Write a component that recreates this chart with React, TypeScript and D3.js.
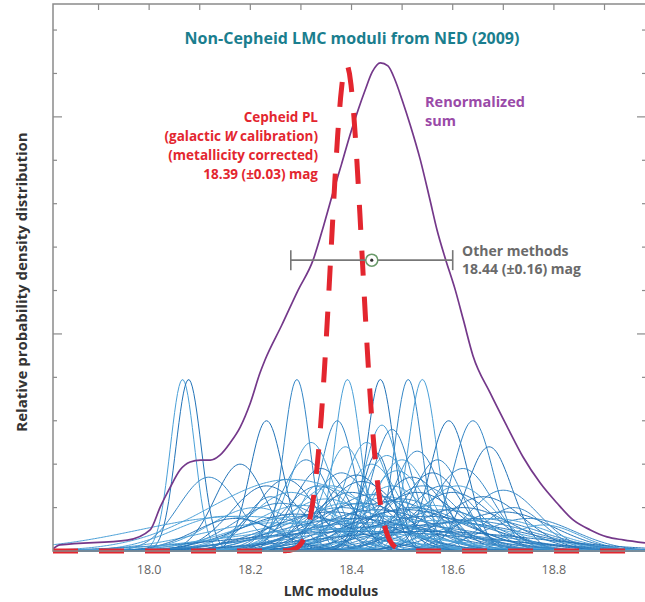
import React from "react";
import * as d3 from "d3";

const W = 645;
const H = 602;

// axis values
const xMajorTicks = [18.0, 18.2, 18.4, 18.6, 18.8];
const xTickLabels = ["18.0", "18.2", "18.4", "18.6", "18.8"];
const xMinorTicks = [17.9, 18.0, 18.1, 18.2, 18.3, 18.4, 18.5, 18.6, 18.7, 18.8, 18.9];
const yMinorTicks = [0.2, 0.4, 0.6, 0.8, 1.0, 1.2, 1.4, 1.6, 1.8, 2.0, 2.2, 2.4];
const yMajorTicks = [1.0, 2.0];

// individual NED moduli (gaussians): mean, sigma, peak height
const blueMeans = [
  18.066, 18.078, 18.292, 18.392, 18.457, 18.512, 18.54,
  18.232, 18.372, 18.46, 18.592, 18.64,
  18.388, 18.672, 18.53, 18.32,
  18.18, 18.118, 18.44, 18.56, 18.62, 18.5,
  18.232, 18.335, 18.48, 18.6, 18.7, 18.28, 18.42, 18.54,
  18.35, 18.42, 18.5, 18.56, 18.45, 18.38, 18.3, 18.62, 18.26, 18.47, 18.4, 18.52,
  18.18, 18.4, 18.5, 18.35, 18.6, 18.45, 18.3, 18.55, 18.65, 18.25, 18.7, 18.75, 18.15, 18.42,
  18.38, 18.47, 18.52, 18.58, 18.43, 18.34, 18.48,
  18.21, 18.27, 18.31, 18.36, 18.41, 18.44, 18.49, 18.53, 18.57, 18.61,
  18.66, 18.72, 18.78, 18.36, 18.46, 18.56, 18.29, 18.24, 18.39, 18.51,
  18.63, 18.33, 18.45, 18.58, 18.68, 18.17, 18.43, 18.35, 18.55, 18.48, 18.28,
];
const blueSigmas = [
  0.024, 0.025, 0.026, 0.026, 0.027, 0.027, 0.028,
  0.033, 0.034, 0.036, 0.038, 0.04,
  0.042, 0.045, 0.048, 0.045,
  0.05, 0.06, 0.055, 0.06, 0.06, 0.055,
  0.07, 0.07, 0.07, 0.08, 0.07, 0.08, 0.075, 0.075,
  0.09, 0.1, 0.09, 0.1, 0.12, 0.11, 0.1, 0.1, 0.09, 0.085, 0.08, 0.11,
  0.2, 0.15, 0.18, 0.16, 0.15, 0.2, 0.13, 0.13, 0.12, 0.15, 0.1, 0.09, 0.1, 0.25,
  0.06, 0.05, 0.065, 0.07, 0.045, 0.055, 0.04,
  0.09, 0.06, 0.05, 0.075, 0.065, 0.09, 0.06, 0.085, 0.05, 0.075,
  0.08, 0.06, 0.07, 0.12, 0.14, 0.16, 0.11, 0.05, 0.095, 0.12,
  0.13, 0.035, 0.03, 0.1, 0.11, 0.08, 0.17, 0.2, 0.22, 0.105, 0.16,
];
const bluePeaks = [
  0.79, 0.79, 0.79, 0.79, 0.79, 0.79, 0.79,
  0.6, 0.6, 0.58, 0.6, 0.6,
  0.48, 0.48, 0.46, 0.5,
  0.4, 0.34, 0.4, 0.36, 0.38, 0.42,
  0.3, 0.3, 0.3, 0.27, 0.28, 0.27, 0.32, 0.3,
  0.24, 0.22, 0.24, 0.21, 0.19, 0.2, 0.21, 0.2, 0.22, 0.25, 0.27, 0.2,
  0.16, 0.15, 0.12, 0.14, 0.13, 0.11, 0.16, 0.16, 0.15, 0.13, 0.18, 0.15, 0.16, 0.09,
  0.36, 0.44, 0.34, 0.3, 0.5, 0.38, 0.56,
  0.2, 0.33, 0.42, 0.3, 0.35, 0.26, 0.37, 0.27, 0.42, 0.3,
  0.25, 0.2, 0.12, 0.18, 0.16, 0.14, 0.17, 0.25, 0.22, 0.19,
  0.14, 0.3, 0.45, 0.19, 0.15, 0.15, 0.13, 0.1, 0.09, 0.23, 0.33,
];

// renormalized sum
const sumX = [
  17.81, 17.824, 17.957, 18.002, 18.022, 18.042, 18.061, 18.081, 18.101, 18.121, 18.14,
  18.16, 18.18, 18.2, 18.219, 18.229, 18.262, 18.294, 18.324, 18.345, 18.362, 18.38,
  18.397, 18.413, 18.427, 18.441, 18.457, 18.472, 18.486, 18.5, 18.516, 18.536, 18.555,
  18.569, 18.585, 18.605, 18.621, 18.64, 18.674, 18.708, 18.739, 18.773, 18.806, 18.838,
  18.872, 18.905, 18.937, 18.98,
];
const sumY = [
  0.01, 0.028, 0.05, 0.097, 0.203, 0.295, 0.373, 0.41, 0.419, 0.419, 0.442,
  0.498, 0.571, 0.682, 0.82, 0.88, 1.04, 1.2, 1.34, 1.5, 1.64, 1.78,
  1.917, 2.032, 2.124, 2.207, 2.249, 2.235, 2.17, 2.078, 1.963, 1.802, 1.618,
  1.479, 1.35, 1.203, 1.065, 0.9, 0.728, 0.571, 0.433, 0.313, 0.221, 0.143,
  0.097, 0.065, 0.051, 0.037,
];

// Cepheid PL
const cepheidMean = 18.39;
const cepheidSigma = 0.031;
const cepheidPeak = 2.24;

// Other methods
const otherMean = 18.44;
const otherErr = 0.16;
const otherLevel = 1.34;

const M = { left: 53, top: 4, right: 646, bottom: 551 };

const x = d3.scaleLinear().domain([17.81, 18.982]).range([M.left, M.right]);
const y = d3.scaleLinear().domain([0, 2.52]).range([M.bottom, M.top]);

function gaussPoints(mu: number, s: number, h: number): [number, number][] {
  const pts: [number, number][] = [];
  const [a, b] = x.domain();
  const n = 400;
  for (let i = 0; i <= n; i++) {
    const v = a + ((b - a) * i) / n;
    pts.push([v, h * Math.exp(-0.5 * ((v - mu) / s) ** 2)]);
  }
  return pts;
}

const line = d3
  .line<[number, number]>()
  .x((d) => x(d[0]))
  .y((d) => y(d[1]));

const smoothLine = d3
  .line<[number, number]>()
  .x((d) => x(d[0]))
  .y((d) => y(d[1]))
  .curve(d3.curveMonotoneX);

const FONT = "'Open Sans', Lato, sans-serif";

export default function App() {
  const blues = blueMeans.map((m, i) => gaussPoints(m, blueSigmas[i], bluePeaks[i]));
  const sumPts: [number, number][] = sumX.map((v, i) => [v, sumY[i]]);
  const ceph = gaussPoints(cepheidMean, cepheidSigma, cepheidPeak);
  const frame = "#8a8a8a";
  return (
    <svg width={W} height={H} style={{ position: "absolute", left: 0, top: 0, background: "#fff" }}>
      <defs>
        <clipPath id="plot">
          <rect x={M.left} y={M.top} width={M.right - M.left} height={M.bottom - M.top + 4} />
        </clipPath>
      </defs>
      <rect x={0} y={0} width={W} height={H} fill="#fff" />
      <g clipPath="url(#plot)">
        {blues.map((p, i) => (
          <path
            key={i}
            d={line(p) || ""}
            fill="none"
            stroke={i % 3 === 0 ? "#4aa0d8" : i % 3 === 1 ? "#2273b8" : "#3486c6"}
            strokeWidth={1}
          />
        ))}
        <path d={smoothLine(sumPts) || ""} fill="none" stroke="#74388a" strokeWidth={1.7} />
        <path
          d={line(ceph) || ""}
          fill="none"
          stroke="#e3262f"
          strokeWidth={5}
          strokeDasharray="25 21"
        />
      </g>
      {/* frame */}
      <rect
        x={M.left}
        y={M.top}
        width={M.right - M.left}
        height={M.bottom - M.top}
        fill="none"
        stroke={frame}
        strokeWidth={1.5}
      />
      {xMinorTicks.map((t) => (
        <line key={"xt" + t} x1={x(t)} x2={x(t)} y1={M.top} y2={M.top + 6} stroke={frame} strokeWidth={1.2} />
      ))}
      {yMinorTicks.map((t) => {
        const len = yMajorTicks.includes(t) ? 9 : 4;
        return (
          <g key={"yt" + t}>
            <line x1={M.left} x2={M.left + len} y1={y(t)} y2={y(t)} stroke={frame} strokeWidth={1.2} />
            <line x1={M.right - len} x2={M.right} y1={y(t)} y2={y(t)} stroke={frame} strokeWidth={1.2} />
          </g>
        );
      })}
      {xMajorTicks.map((t, i) => (
        <text
          key={"xl" + t}
          x={x(t)}
          y={574}
          textAnchor="middle"
          fontFamily={FONT}
          fontSize={12.5}
          fill="#666"
        >
          {xTickLabels[i]}
        </text>
      ))}
      <text x={331} y={596} textAnchor="middle" fontFamily={FONT} fontSize={14} fontWeight={700} fill="#333">
        LMC modulus
      </text>
      <text
        transform={`translate(27, ${282}) rotate(-90)`}
        textAnchor="middle"
        fontFamily={FONT}
        fontSize={15}
        fontWeight={700}
        fill="#333"
      >
        Relative probability density distribution
      </text>
      {/* title */}
      <text x={352} y={44} textAnchor="middle" fontFamily={FONT} fontSize={16} fontWeight={700} fill="#1a7e8e">
        Non-Cepheid LMC moduli from NED (2009)
      </text>
      {/* Cepheid label */}
      <g fontFamily={FONT} fontSize={13.5} fontWeight={700} fill="#e3262f" textAnchor="end">
        <text x={318} y={122}>Cepheid PL</text>
        <text x={318} y={141}>
          (galactic <tspan fontStyle="italic">W</tspan> calibration)
        </text>
        <text x={318} y={160}>(metallicity corrected)</text>
        <text x={318} y={179}>18.39 (±0.03) mag</text>
      </g>
      {/* Renormalized sum label */}
      <g fontFamily={FONT} fontSize={14.5} fontWeight={700} fill="#9a4aa8">
        <text x={425} y={107}>Renormalized</text>
        <text x={425} y={126}>sum</text>
      </g>
      {/* error bar */}
      <g stroke="#777" strokeWidth={1.6}>
        <line x1={x(otherMean - otherErr)} x2={x(otherMean + otherErr)} y1={y(otherLevel)} y2={y(otherLevel)} />
        <line x1={x(otherMean - otherErr)} x2={x(otherMean - otherErr)} y1={y(otherLevel) - 10} y2={y(otherLevel) + 10} />
        <line x1={x(otherMean + otherErr)} x2={x(otherMean + otherErr)} y1={y(otherLevel) - 10} y2={y(otherLevel) + 10} />
      </g>
      <circle cx={x(otherMean)} cy={y(otherLevel)} r={6} fill="#fff" stroke="#6a9a6a" strokeWidth={1.5} />
      <circle cx={x(otherMean)} cy={y(otherLevel)} r={1.6} fill="#333" />
      <g fontFamily={FONT} fontSize={14} fontWeight={700} fill="#6a6a6a">
        <text x={462} y={256}>Other methods</text>
        <text x={462} y={274}>18.44 (±0.16) mag</text>
      </g>
    </svg>
  );
}
